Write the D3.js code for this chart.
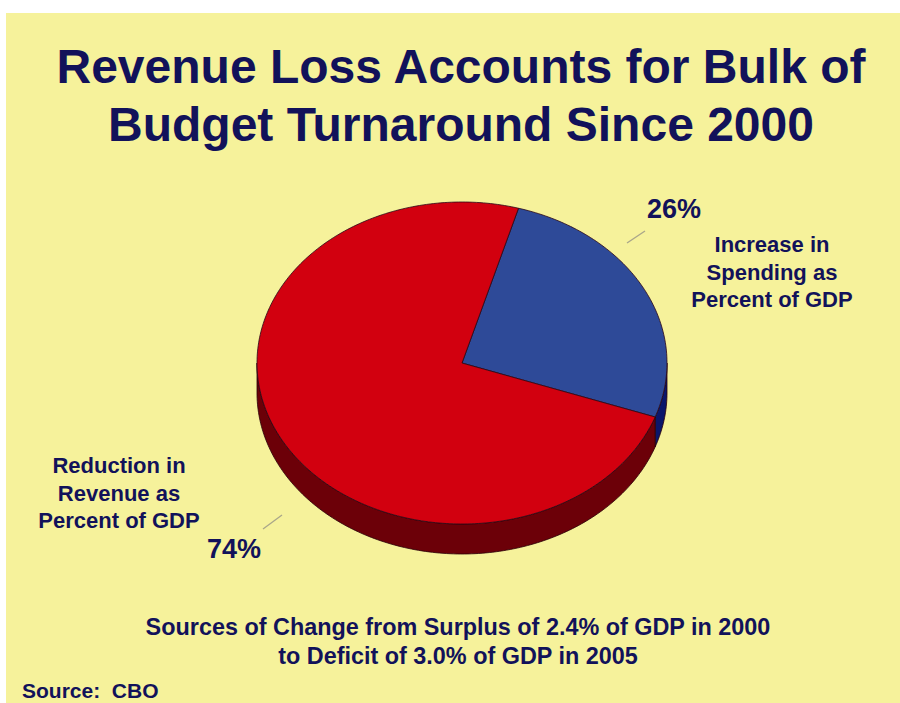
<!DOCTYPE html>
<html>
<head>
<meta charset="utf-8">
<script src="https://cdn.jsdelivr.net/npm/d3@7"></script>
<style>
  html, body { margin: 0; padding: 0; background: #ffffff; }
  svg { display: block; }
  text { font-family: "Liberation Sans", Arial, Helvetica, sans-serif; font-weight: bold; fill: #12125a; }
</style>
</head>
<body>
<svg id="chart" width="900" height="703"></svg>
<script>
// ---- data ----
const categories = ["Increase in Spending as Percent of GDP", "Reduction in Revenue as Percent of GDP"];
const shares = [26, 74];
const shareLabels = ["26%", "74%"];
const categoryLines = [
  ["Increase in", "Spending as", "Percent of GDP"],
  ["Reduction in", "Revenue as", "Percent of GDP"]
];
const titleLines = ["Revenue Loss Accounts for Bulk of", "Budget Turnaround Since 2000"];
const noteLines = ["Sources of Change from Surplus of 2.4% of GDP in 2000", "to Deficit of 3.0% of GDP in 2005"];
const sourceText = "Source:  CBO";

// ---- styling ----
const topColors = ["#2e4a98", "#d2000f"];
const sideColors = ["#0b166a", "#6c0008"];

const svg = d3.select("#chart");
const W = 900, H = 703;

// slide panel
svg.append("rect").attr("x", 0).attr("y", 0).attr("width", W).attr("height", H).attr("fill", "#ffffff");
svg.append("rect").attr("x", 6).attr("y", 13).attr("width", W - 6).attr("height", H - 13).attr("fill", "#f6f29b");

// ---- title ----
svg.append("g").selectAll("text").data(titleLines).join("text")
  .attr("x", 461).attr("y", (d, i) => 83 + i * 58)
  .attr("text-anchor", "middle").attr("font-size", 48)
  .text(d => d);

// ---- 3D pie ----
const cx = 462, cy = 363, rx = 205, ry = 161, depth = 30;
const startAngle = 16 * Math.PI / 180;
const pie = d3.pie().sort(null).value(d => d)
  .startAngle(startAngle).endAngle(startAngle + 2 * Math.PI);
const arcs = pie(shares);

const pt = (a, dy = 0) => [cx + rx * Math.sin(a), cy - ry * Math.cos(a) + dy];
const sample = (a0, a1, dy) => {
  const n = Math.max(2, Math.ceil(Math.abs(a1 - a0) / (Math.PI / 180)));
  return d3.range(n + 1).map(k => pt(a0 + (a1 - a0) * k / n, dy));
};
const line = d3.line();

const gPie = svg.append("g");

// side walls (only the front half, angles between 90° and 270°, is visible)
arcs.forEach((a, i) => {
  [0, 2 * Math.PI, -2 * Math.PI].forEach(off => {
    const s = Math.max(a.startAngle, Math.PI / 2 + off);
    const e = Math.min(a.endAngle, 3 * Math.PI / 2 + off);
    if (e > s) {
      const pts = sample(s, e, 0).concat(sample(e, s, depth));
      gPie.append("path")
        .attr("d", line(pts) + "Z")
        .attr("fill", sideColors[i])
        .attr("stroke", "#2a0008").attr("stroke-width", 0.8)
        .attr("stroke-linejoin", "round");
    }
  });
});

// top faces
arcs.forEach((a, i) => {
  const pts = [[cx, cy]].concat(sample(a.startAngle, a.endAngle, 0));
  gPie.append("path")
    .attr("d", line(pts) + "Z")
    .attr("fill", topColors[i])
    .attr("stroke", "#2a0818").attr("stroke-width", 0.8)
    .attr("stroke-linejoin", "round");
});

// ---- labels ----
const labelPos = [
  { pct: [647, 218], lines: [772, 252], leader: [[627, 243], [645, 231]] },
  { pct: [207, 558], lines: [119, 473], leader: [[263, 529], [282, 515]] }
];

arcs.forEach((a, i) => {
  const p = labelPos[i];
  svg.append("line")
    .attr("x1", p.leader[0][0]).attr("y1", p.leader[0][1])
    .attr("x2", p.leader[1][0]).attr("y2", p.leader[1][1])
    .attr("stroke", "#a9a68a").attr("stroke-width", 1.3);
  svg.append("text")
    .attr("x", p.pct[0]).attr("y", p.pct[1])
    .attr("font-size", 27)
    .text(shareLabels[i]);
  svg.append("g").selectAll("text").data(categoryLines[i]).join("text")
    .attr("x", p.lines[0]).attr("y", (d, k) => p.lines[1] + k * 27.5)
    .attr("text-anchor", "middle").attr("font-size", 22)
    .text(d => d);
});

// ---- note and source ----
svg.append("g").selectAll("text").data(noteLines).join("text")
  .attr("x", 458).attr("y", (d, i) => 635 + i * 29)
  .attr("text-anchor", "middle").attr("font-size", 23.4)
  .text(d => d);

svg.append("text")
  .attr("x", 22).attr("y", 698)
  .attr("font-size", 21)
  .attr("xml:space", "preserve")
  .style("white-space", "pre")
  .text(sourceText);
</script>
</body>
</html>
